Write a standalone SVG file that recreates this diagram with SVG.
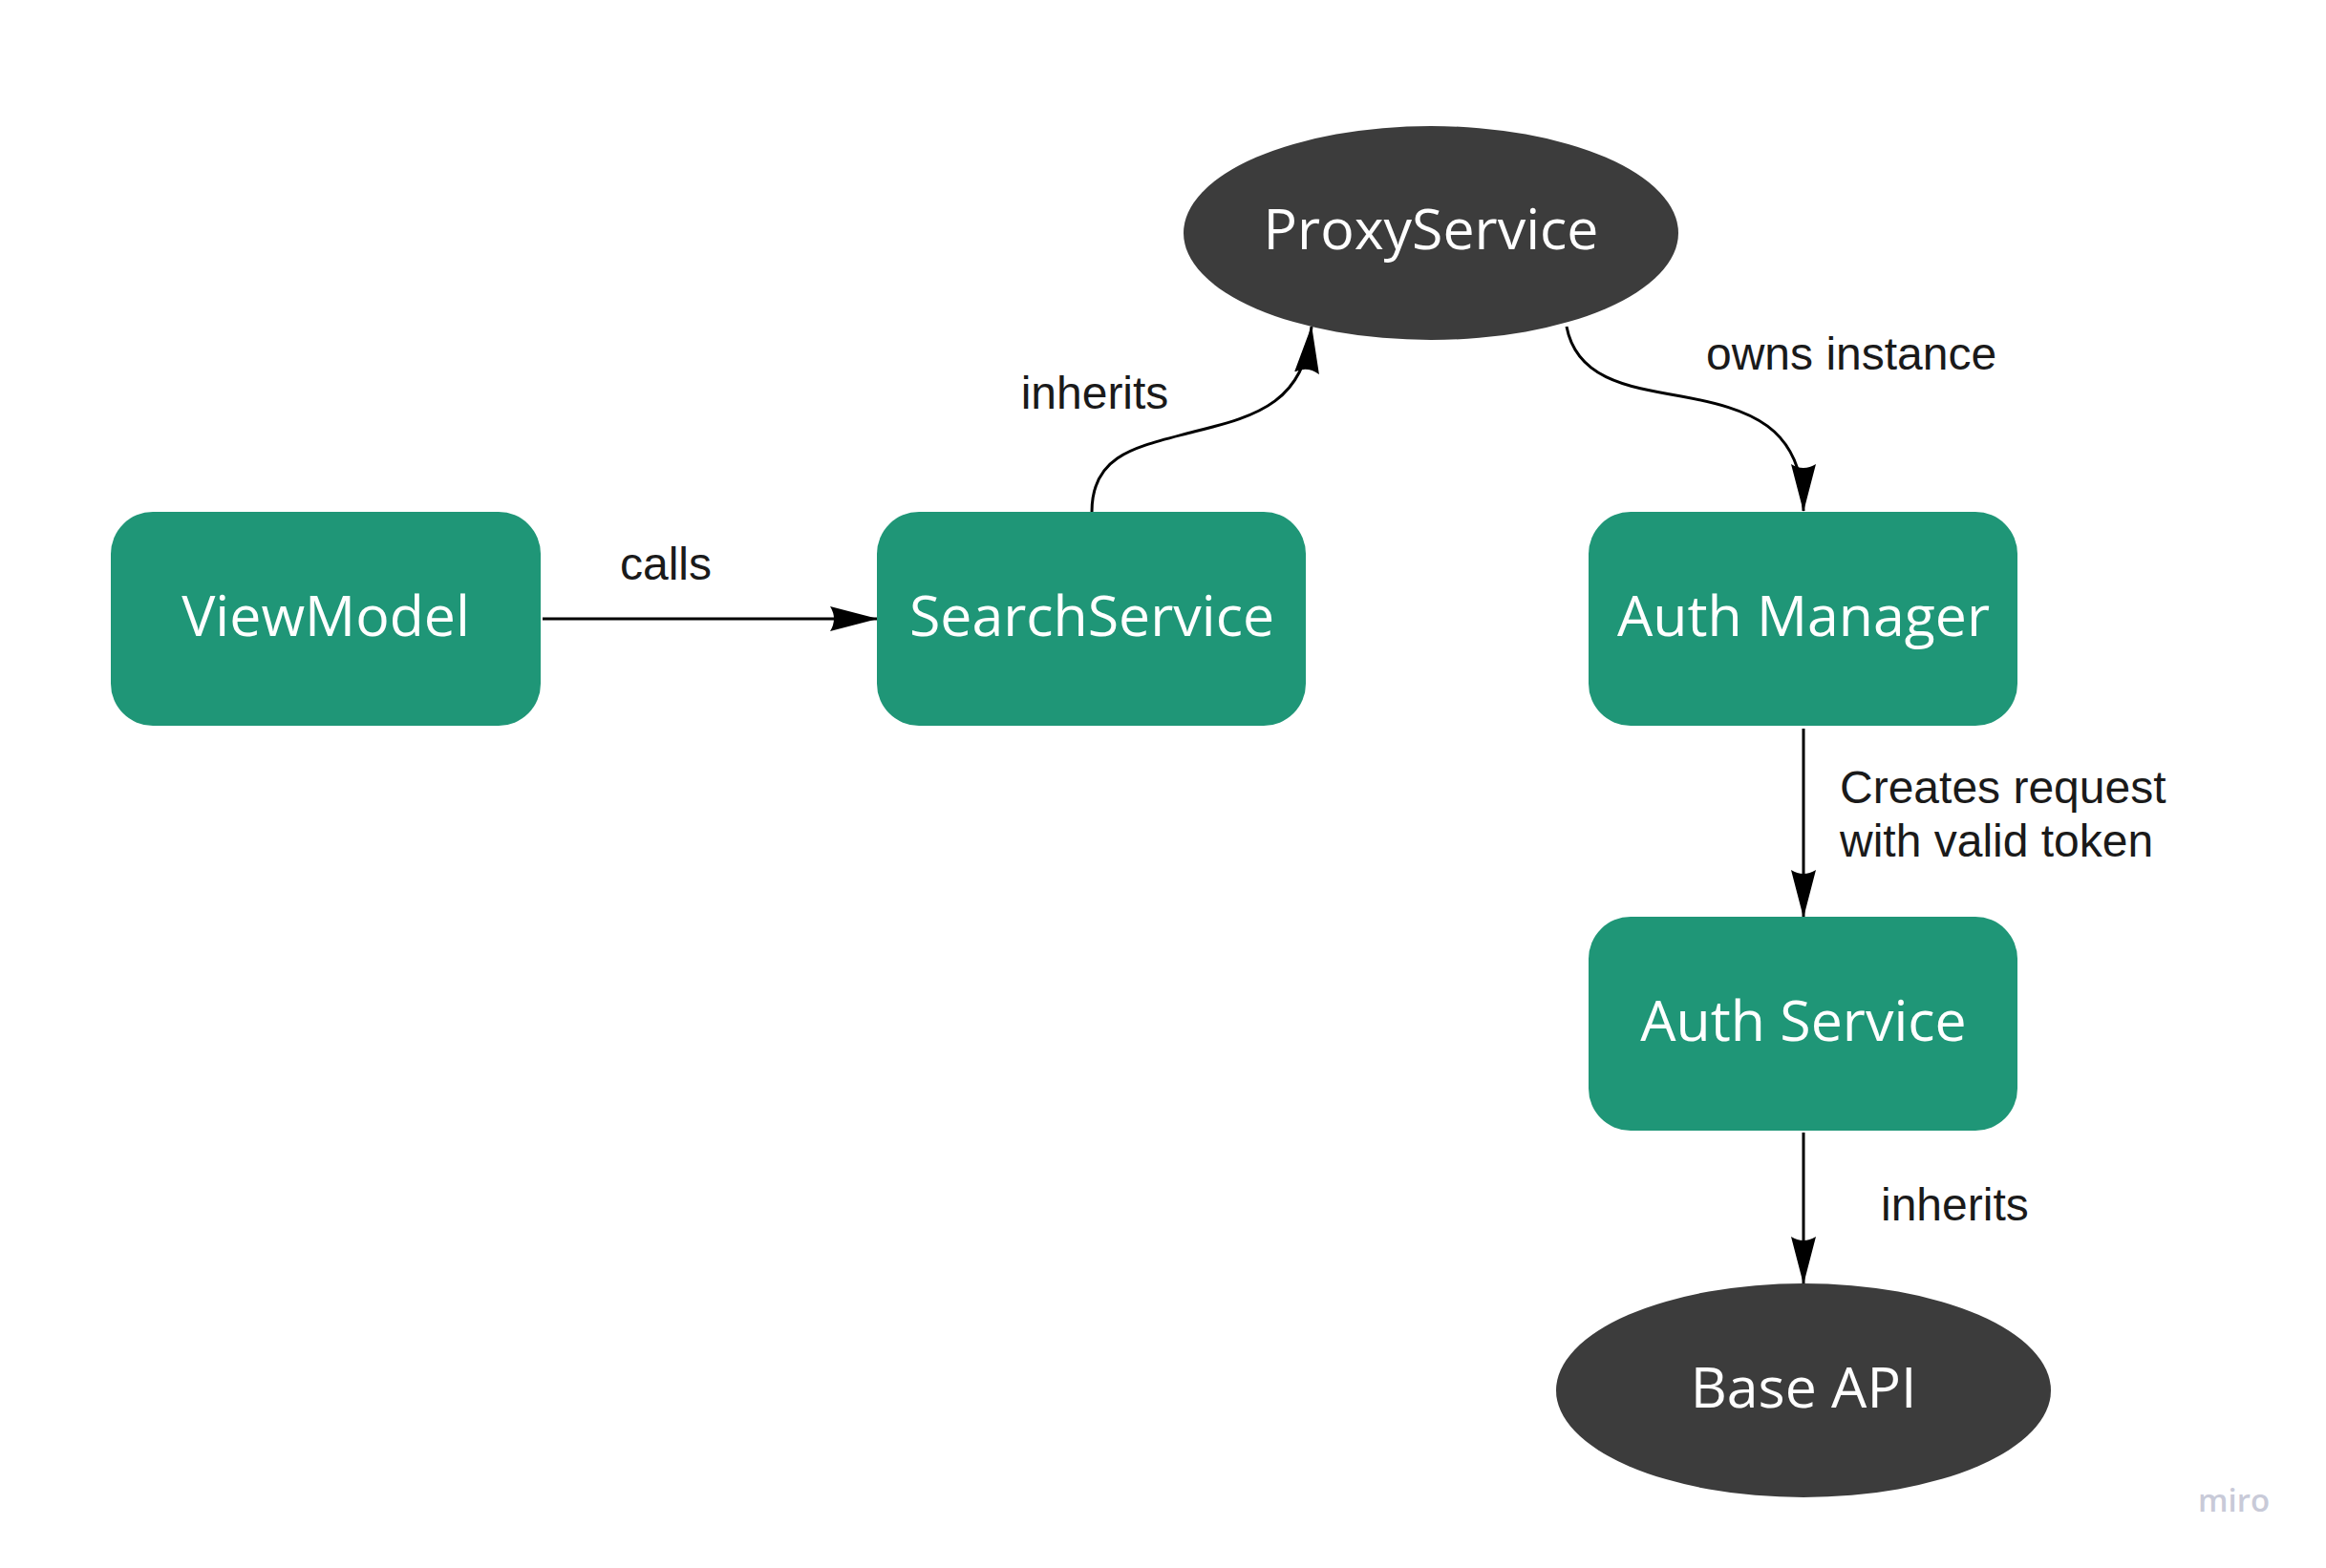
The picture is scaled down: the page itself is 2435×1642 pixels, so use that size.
<svg xmlns="http://www.w3.org/2000/svg" width="2435" height="1642" viewBox="0 0 2435 1642">
<style>
.box{fill:#1f9677;}
.oval{fill:#3c3c3c;}
.ntxt{font-family:"Open Sans","Noto Sans",sans-serif;font-size:59px;fill:#ffffff;text-anchor:middle;}
.etxt{font-family:"Liberation Sans",Arial,sans-serif;font-size:48px;fill:#1a1a1a;}
.edge{fill:none;stroke:#000000;stroke-width:3;marker-end:url(#arr);}
.wm{font-family:"Open Sans","Noto Sans",sans-serif;font-size:33px;font-weight:600;fill:#c8cad8;}
</style>
<defs>
<marker id="arr" markerUnits="userSpaceOnUse" viewBox="0 0 50 26" refX="49" refY="13" markerWidth="50" markerHeight="26" orient="auto">
<path d="M50,13 L0,0 Q8,13 0,26 Z" fill="#000000"/>
</marker>
</defs>
<rect width="2435" height="1642" fill="#ffffff"/>
<g id="connectors">
<path class="edge" d="M568,648 L918,648"/>
<path class="edge" d="M1143,536 C1143,475 1190,468 1250,452 C1320,435 1365,420 1373,342"/>
<path class="edge" d="M1640,342 C1650,395 1700,405 1760,415 C1830,428 1888,445 1888,535"/>
<path class="edge" d="M1888,763 L1888,960"/>
<path class="edge" d="M1888,1186 L1888,1344"/>
<text class="etxt" x="697" y="607" text-anchor="middle">calls</text>
<text class="etxt" x="1146" y="428" text-anchor="middle">inherits</text>
<text class="etxt" x="1786" y="387">owns instance</text>
<text class="etxt" x="1926" y="841">Creates request</text>
<text class="etxt" x="1926" y="897">with valid token</text>
<text class="etxt" x="1969" y="1278">inherits</text>
</g>
<g id="viewmodel">
<rect class="box" x="116" y="536" width="450" height="224" rx="44" ry="44"/>
<text class="ntxt" x="341" y="666">ViewModel</text>
</g>
<g id="searchservice">
<rect class="box" x="918" y="536" width="449" height="224" rx="44" ry="44"/>
<text class="ntxt" x="1143" y="666">SearchService</text>
</g>
<g id="proxyservice">
<ellipse class="oval" cx="1498" cy="244" rx="259" ry="112"/>
<text class="ntxt" x="1498" y="261">ProxyService</text>
</g>
<g id="authmanager">
<rect class="box" x="1663" y="536" width="449" height="224" rx="44" ry="44"/>
<text class="ntxt" x="1888" y="666">Auth Manager</text>
</g>
<g id="authservice">
<rect class="box" x="1663" y="960" width="449" height="224" rx="44" ry="44"/>
<text class="ntxt" x="1888" y="1090">Auth Service</text>
</g>
<g id="baseapi">
<ellipse class="oval" cx="1888" cy="1456" rx="259" ry="112"/>
<text class="ntxt" x="1888" y="1474">Base API</text>
</g>
<text class="wm" x="2301" y="1583">miro</text>
</svg>
